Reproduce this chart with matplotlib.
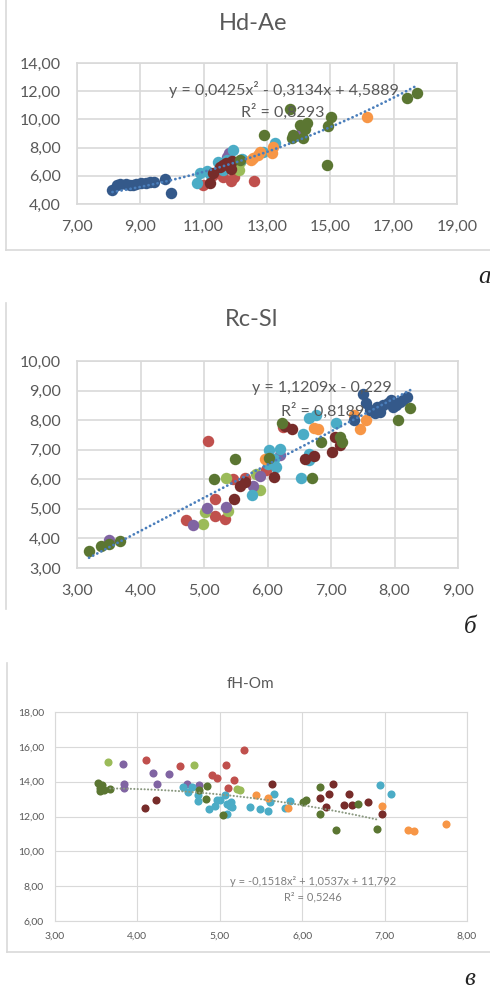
import numpy as np
import matplotlib
matplotlib.use("Agg")
import matplotlib.pyplot as plt
from matplotlib.ticker import FuncFormatter
from matplotlib.lines import Line2D

# ---- data: (x, y) pairs per series ----
# panel a: Hd-Ae
hd_navy = [(8.12, 4.99), (8.26, 5.32), (8.37, 5.42), (8.54, 5.39), (8.66, 5.32),
           (8.77, 5.35), (8.87, 5.39), (9.03, 5.49), (9.19, 5.51), (9.32, 5.56),
           (9.43, 5.58), (9.79, 5.77), (9.98, 4.80)]
hd_red = [(10.98, 5.35), (11.30, 6.05), (11.85, 5.65), (11.95, 5.90), (12.60, 5.65),
          (11.60, 5.90)]
hd_lgreen = [(11.80, 7.36), (12.10, 6.40), (11.95, 6.60), (12.15, 7.00)]
hd_purple = [(11.80, 7.60), (11.75, 7.30), (14.10, 9.25)]
hd_cyan = [(10.78, 5.51), (10.88, 6.22), (11.09, 6.36), (11.20, 6.10), (11.46, 7.00),
           (11.60, 6.40), (11.75, 7.10), (11.93, 7.83), (12.20, 7.20), (12.87, 7.71),
           (13.25, 8.35)]
hd_orange = [(12.50, 7.10), (12.56, 7.24), (12.70, 7.50), (12.77, 7.71), (13.16, 7.59),
             (13.20, 8.07), (16.15, 10.19)]
hd_maroon = [(11.20, 5.51), (11.30, 6.20), (11.50, 6.65), (11.70, 6.90), (11.85, 6.50),
             (11.90, 7.07), (11.60, 6.80)]
hd_dgreen = [(12.14, 7.12), (12.91, 8.89), (13.73, 10.71), (13.78, 8.66), (13.83, 8.90),
             (14.04, 9.60), (14.25, 9.72), (14.15, 8.66), (14.20, 9.30), (14.88, 6.77),
             (14.94, 9.53), (15.02, 10.15), (17.41, 11.50), (17.73, 11.85)]
hd_coef = [0.0425, -0.3134, 4.5889]
hd_eq = ["y = 0,0425x² - 0,3134x + 4,5889", "R² = 0,8293"]

# panel b: Rc-Sl
rc_red = [(5.06, 7.30), (4.72, 4.63), (5.17, 5.33), (5.18, 4.76), (5.33, 4.65),
          (5.46, 6.00), (5.64, 6.03), (5.98, 6.31), (6.25, 7.77)]
rc_lgreen = [(4.99, 4.50), (5.01, 4.90), (5.35, 6.03), (5.38, 4.93), (5.88, 5.65),
             (5.82, 6.19)]
rc_purple = [(3.51, 3.96), (4.82, 4.45), (5.05, 5.04), (5.35, 5.07), (5.77, 5.77),
             (5.88, 6.12), (6.19, 6.83)]
rc_cyan = [(5.75, 5.46), (6.03, 6.98), (6.19, 7.01), (6.14, 6.42), (6.00, 6.53),
           (6.53, 6.03), (6.56, 7.53), (6.66, 8.06), (6.77, 8.17), (6.66, 6.87),
           (7.08, 7.91), (6.66, 6.65), (6.10, 6.70)]
rc_orange = [(5.96, 6.68), (6.74, 7.75), (6.80, 7.71), (7.45, 7.69), (7.55, 8.00),
             (7.37, 8.17)]
rc_navy = [(7.37, 8.00), (7.50, 8.90), (7.55, 8.57), (7.61, 8.34), (7.69, 8.23),
           (7.72, 8.45), (7.77, 8.28), (7.82, 8.51), (7.90, 8.57), (7.95, 8.68),
           (7.98, 8.45), (8.03, 8.51), (8.08, 8.62), (8.13, 8.68), (8.20, 8.77)]
rc_maroon = [(5.48, 5.33), (5.57, 5.77), (5.64, 5.91), (6.10, 6.08), (6.39, 7.69),
             (6.28, 7.80), (6.59, 6.67), (6.74, 6.79), (7.02, 6.91), (7.06, 7.44),
             (7.14, 7.15)]
rc_dgreen = [(3.19, 3.58), (3.38, 3.73), (3.51, 3.80), (3.67, 3.91), (5.16, 6.00),
             (5.49, 6.69), (6.02, 6.72), (6.23, 7.91), (6.70, 6.03), (6.85, 7.27),
             (7.14, 7.44), (7.17, 7.27), (8.06, 8.00), (8.25, 8.40)]
rc_coef = [1.1209, -0.229]
rc_eq = ["y = 1,1209x - 0,229", "R² = 0,8189"]

# panel c: fH-Om
fh_red = [(4.10, 15.27), (4.52, 14.88), (4.91, 14.40), (4.97, 14.23), (5.08, 14.98),
          (5.17, 14.12), (5.10, 13.64), (5.29, 15.80)]
fh_lgreen = [(3.64, 15.13), (4.69, 14.98), (5.21, 13.60), (5.24, 13.50)]
fh_purple = [(3.82, 15.00), (3.84, 13.85), (3.84, 13.66), (4.19, 14.50), (4.24, 13.85),
             (4.38, 14.42), (4.60, 13.89), (4.75, 13.83)]
fh_cyan = [(4.55, 13.69), (4.62, 13.41), (4.66, 13.70), (4.73, 12.87), (4.74, 13.25),
           (4.87, 12.45), (4.94, 12.60), (4.96, 12.93), (5.00, 12.97), (5.06, 13.22),
           (5.09, 12.73), (5.12, 12.58), (5.15, 12.54), (5.13, 12.83), (5.09, 12.12),
           (5.37, 12.55), (5.49, 12.45), (5.58, 12.32), (5.61, 12.83), (5.66, 13.31),
           (5.79, 12.51), (5.85, 12.87), (6.95, 13.79), (7.08, 13.27)]
fh_orange = [(5.44, 13.25), (5.59, 13.06), (5.83, 12.51), (6.97, 12.60), (7.28, 11.21),
             (7.36, 11.17), (7.74, 11.59)]
fh_maroon = [(4.09, 12.49), (4.23, 12.93), (5.63, 13.85), (6.21, 13.08), (6.29, 12.55),
             (6.33, 13.27), (6.37, 13.85), (6.51, 12.68), (6.57, 13.31), (6.61, 12.64),
             (6.80, 12.86), (6.97, 12.12)]
fh_dgreen = [(3.52, 13.92), (3.55, 13.64), (3.57, 13.80), (3.55, 13.45), (3.59, 13.50),
             (3.67, 13.56), (4.84, 13.73), (4.83, 13.02), (4.75, 13.50), (5.04, 12.07),
             (6.01, 12.83), (6.05, 12.97), (6.21, 13.69), (6.22, 12.12), (6.41, 11.24),
             (6.68, 12.70), (6.91, 11.28)]
fh_coef = [-0.1518, 1.0537, 11.792]
fh_eq = ["y = -0,1518x² + 1,0537x + 11,792", "R² = 0,5246"]

# excel 2010 palette
C = {"red": "#C0504D", "lgreen": "#9BBB59", "purple": "#8064A2", "cyan": "#4BACC6",
     "orange": "#F79646", "navy": "#34598A", "maroon": "#772C2A", "dgreen": "#5B7632"}

W, H = 490, 992
plt.rcParams["font.family"] = ["Lato", "DejaVu Sans"]
fig = plt.figure(figsize=(W / 100, H / 100), dpi=100)
GREY = "#595959"
GRID = "#D9D9D9"


def px_axes(l, t, r, b):
    return fig.add_axes([l / W, 1 - b / H, (r - l) / W, (b - t) / H])


def dec(v, _):
    return f"{v:.2f}".replace(".", ",")


def style(ax, xlim, ylim, xstep, ystep, fs, pad, glw):
    ax.set_xlim(*xlim); ax.set_ylim(*ylim)
    ax.set_xticks(np.arange(xlim[0], xlim[1] + 0.01, xstep))
    ax.set_yticks(np.arange(ylim[0], ylim[1] + 0.01, ystep))
    ax.xaxis.set_major_formatter(FuncFormatter(dec))
    ax.yaxis.set_major_formatter(FuncFormatter(dec))
    ax.tick_params(length=0, labelsize=fs, colors=GREY, pad=pad)
    ax.grid(True, color=GRID, lw=glw, zorder=0)
    ax.set_axisbelow(True)
    for s in ax.spines.values():
        s.set_color(GRID); s.set_linewidth(glw)


def draw(ax, series, size):
    for name, pts in series:
        a = np.array(pts)
        ax.scatter(a[:, 0], a[:, 1], s=size, c=C[name], linewidths=0, zorder=3)


def trend(ax, coef, xs, color, lw):
    # excel "round dot" trendline
    x = np.linspace(min(xs), max(xs), 200)
    ax.plot(x, np.polyval(coef, x), color=color, lw=lw, ls=(0, (0.05, 1.6)),
            dash_capstyle="round", zorder=4)


# ---- panel a ----
ax1 = px_axes(77, 63, 457, 204)
style(ax1, (7, 19), (4, 14), 2, 2, 11.5, 11.5, 1.2)
s1 = [("red", hd_red), ("lgreen", hd_lgreen), ("purple", hd_purple), ("cyan", hd_cyan),
      ("orange", hd_orange), ("navy", hd_navy), ("maroon", hd_maroon), ("dgreen", hd_dgreen)]
draw(ax1, s1, 68)
trend(ax1, hd_coef, [p[0] for _, pts in s1 for p in pts], "#4A7EBB", 2.0)
ax1.text(13.54, 12.09, hd_eq[0], ha="center", va="center", fontsize=11.5, color=GREY, zorder=5)
ax1.text(13.5, 10.52, hd_eq[1], ha="center", va="center", fontsize=11.5, color=GREY, zorder=5)
fig.text(253 / W, 1 - 23 / H, "Hd-Ae", ha="center", va="center", fontsize=17, color=GREY)

# ---- panel b ----
ax2 = px_axes(77, 361, 458, 568)
style(ax2, (3, 9), (3, 10), 1, 1, 11.5, 11.5, 1.2)
s2 = [("red", rc_red), ("lgreen", rc_lgreen), ("purple", rc_purple), ("cyan", rc_cyan),
      ("orange", rc_orange), ("navy", rc_navy), ("maroon", rc_maroon), ("dgreen", rc_dgreen)]
draw(ax2, s2, 68)
trend(ax2, rc_coef, [p[0] for _, pts in s2 for p in pts], "#4A7EBB", 2.0)
ax2.text(6.86, 9.09, rc_eq[0], ha="center", va="center", fontsize=11.5, color=GREY, zorder=5)
ax2.text(6.87, 8.31, rc_eq[1], ha="center", va="center", fontsize=11.5, color=GREY, zorder=5)
fig.text(252 / W, 1 - 320 / H, "Rc-Sl", ha="center", va="center", fontsize=17, color=GREY)

# ---- panel c ----
ax3 = px_axes(55, 712, 467, 921)
style(ax3, (3, 8), (6, 18), 1, 2, 7.5, 8, 0.8)
s3 = [("red", fh_red), ("lgreen", fh_lgreen), ("purple", fh_purple), ("cyan", fh_cyan),
      ("orange", fh_orange), ("maroon", fh_maroon), ("dgreen", fh_dgreen)]
draw(ax3, s3, 34)
trend(ax3, fh_coef, [3.67, 6.93], "#8A9880", 1.5)
ax3.text(6.13, 8.24, fh_eq[0], ha="center", va="center", fontsize=8, color="#7F7F7F", zorder=5)
ax3.text(6.13, 7.38, fh_eq[1], ha="center", va="center", fontsize=8, color="#7F7F7F", zorder=5)
fig.text(250 / W, 1 - 684 / H, "fH-Om", ha="center", va="center", fontsize=11, color=GREY)

# chart-area borders (excel chart frames)
for (x0, y0, x1, y1) in [(6, 0, 6, 250), (6, 250, W, 250), (6, 303, 6, 609),
                         (7, 663, 7, 952), (7, 952, W, 952)]:
    fig.add_artist(Line2D([x0 / W, x1 / W], [1 - y0 / H, 1 - y1 / H], color=GRID, lw=1.2))

# panel letters
for lab, x, y in [("а", 484, 277), ("б", 470, 627), ("в", 470, 979)]:
    fig.text(x / W, 1 - y / H, lab, ha="center", va="center", fontsize=18,
             style="italic", family=["Liberation Serif", "DejaVu Serif"], color="#222222")

fig.savefig("out.png", dpi=100)
